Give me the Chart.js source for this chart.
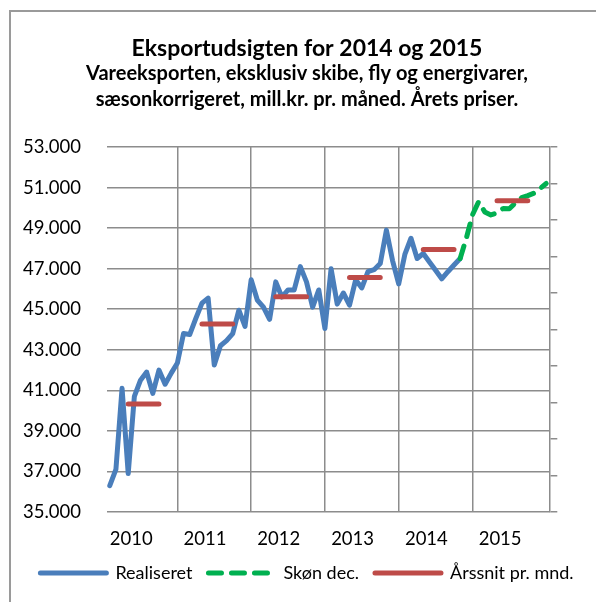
<!DOCTYPE html>
<html>
<head>
<meta charset="utf-8">
<script src="https://cdn.jsdelivr.net/npm/chart.js@4"></script>
<style>
  html, body { margin: 0; padding: 0; background: #fff; overflow: hidden; }
  #frame { position: absolute; left: 9px; top: 10px; width: 700px; height: 700px;
           border-left: 2px solid #9a9a9a; border-top: 2px solid #9a9a9a; }
  #wrap { position: absolute; left: 0; top: 0; width: 596px; height: 602px; }
</style>
</head>
<body>
<div id="frame"></div>
<div id="wrap"><canvas id="exportChart" width="596" height="602"></canvas></div>
<script>
// monthly values, mill. kr. (Jan 2010 onwards)
const realiseret = [
  36300, 37100, 41100, 36900, 40700, 41500, 41900, 40850, 42000, 41300, 41850, 42350,
  43800, 43750, 44550, 45300, 45550, 42250, 43200, 43450, 43800, 44950, 44150, 46450,
  45450, 45100, 44500, 46350, 45600, 45950, 45950, 47100, 46350, 45100, 45950, 44050,
  47000, 45250, 45800, 45200, 46450, 46050, 46850, 46950, 47250, 48900, 47400, 46250,
  47700, 48500, 47500, 47750, 47330, 46920, 46500, 46850, 47180, 47500
];
// forecast starts at month index 57 (Oct 2014)
const skoenStart = 57;
const skoenDec = [
  47500, 48500, 49650, 50300, 49800, 49650, 49750, 49970, 49950, 50250, 50500, 50600,
  50720, 50950, 51200
];
const years = ['2010', '2011', '2012', '2013', '2014', '2015'];
const aarssnit = [40330, 44270, 45620, 46570, 47950, 50350];

const yTicks = { min: 35000, max: 53000, step: 2000 };

const gridColor = '#8c8c8c';
Chart.defaults.font.family = 'Lato';
Chart.defaults.color = '#000';

const blueData = realiseret.map((v, i) => ({ x: i + 0.5, y: v }));
const greenData = skoenDec.map((v, i) => ({ x: skoenStart + i + 0.5, y: v }));
const redData = [];
aarssnit.forEach((v, k) => {
  redData.push({ x: k * 12 + 3.5, y: v });
  redData.push({ x: k * 12 + 8.5, y: v });
  redData.push({ x: k * 12 + 10, y: null });
});

const labelPos = years.map((y, k) => k * 12 + 4);
const gridPos = years.slice(0, 5).map((y, k) => k * 12 + 11.5);
const xTickVals = labelPos.concat(gridPos).sort((a, b) => a - b);

const fmt = v => String(v).replace(/\B(?=(\d{3})+(?!\d))/g, '.');

new Chart(document.getElementById('exportChart').getContext('2d'), {
  type: 'line',
  data: {
    datasets: [
      {
        label: 'Realiseret',
        data: blueData,
        borderColor: '#4a7ebb',
        borderWidth: 5,
        borderCapStyle: 'round',
        borderJoinStyle: 'round',
        pointRadius: 0,
        tension: 0,
        order: 2
      },
      {
        label: 'Skøn dec.',
        data: greenData,
        borderColor: '#00b050',
        borderWidth: 5,
        borderDash: [13, 10],
        borderCapStyle: 'round',
        borderJoinStyle: 'round',
        pointRadius: 0,
        tension: 0,
        order: 1
      },
      {
        label: 'Årssnit pr. mnd.',
        data: redData,
        borderColor: '#be4b48',
        borderWidth: 5,
        borderCapStyle: 'round',
        pointRadius: 0,
        spanGaps: false,
        order: 0
      }
    ]
  },
  options: {
    responsive: false,
    animation: false,
    layout: { padding: { left: 18, right: 0, top: 0, bottom: 10 } },
    plugins: {
      title: {
        display: true,
        text: 'Eksportudsigten for 2014 og 2015',
        font: { size: 23, weight: 'bold', lineHeight: 1.0 },
        padding: { top: 37, bottom: 0 }
      },
      subtitle: {
        display: true,
        text: ['Vareeksporten, eksklusiv skibe, fly og energivarer,',
               'sæsonkorrigeret, mill.kr. pr. måned. Årets priser.'],
        font: { size: 20, weight: 'bold', lineHeight: 1.33 },
        color: '#000',
        padding: { top: 0, bottom: 33.8 }
      },
      legend: {
        position: 'bottom',
        labels: {
          usePointStyle: true,
          pointStyle: 'line',
          pointStyleWidth: 66,
          font: { size: 18 },
          padding: 16,
          sort: (a, b) => a.datasetIndex - b.datasetIndex,
          generateLabels: chart => {
            const items = Chart.defaults.plugins.legend.labels.generateLabels(chart);
            items.forEach(item => {
              const ds = chart.data.datasets[item.datasetIndex];
              item.lineDash = ds.borderDash || [];
              item.lineCap = 'round';
              item.lineWidth = ds.borderWidth;
            });
            return items;
          }
        }
      },
      tooltip: { enabled: false }
    },
    scales: {
      x: {
        type: 'linear',
        min: 0,
        max: 72,
        afterBuildTicks: scale => { scale.ticks = xTickVals.map(v => ({ value: v })); },
        afterFit: scale => { scale.height = 36; },
        ticks: {
          autoSkip: false,
          maxRotation: 0,
          padding: 16,
          font: { size: 18.5 },
          callback: v => {
            const k = labelPos.indexOf(v);
            return k >= 0 ? years[k] : '';
          }
        },
        grid: {
          drawTicks: false,
          lineWidth: 1.5,
          color: ctx => (ctx.tick && gridPos.includes(ctx.tick.value)) ? gridColor : 'rgba(0,0,0,0)'
        },
        border: { display: false }
      },
      y: {
        min: yTicks.min,
        max: yTicks.max,
        afterFit: scale => { scale.width = 88.7; },
        ticks: {
          stepSize: yTicks.step,
          padding: 25.7,
          font: { size: 18.5 },
          callback: v => fmt(v)
        },
        grid: { drawTicks: false, lineWidth: 1.5, color: gridColor },
        border: { display: false }
      },
      y2: {
        position: 'right',
        min: 0,
        max: 10,
        afterFit: scale => { scale.width = 46.7; },
        ticks: { stepSize: 1, display: false },
        grid: { drawOnChartArea: false, drawTicks: true, tickLength: 8, lineWidth: 1.5, color: gridColor },
        border: { display: true, color: gridColor, width: 1.5 }
      }
    }
  }
});
</script>
</body>
</html>
